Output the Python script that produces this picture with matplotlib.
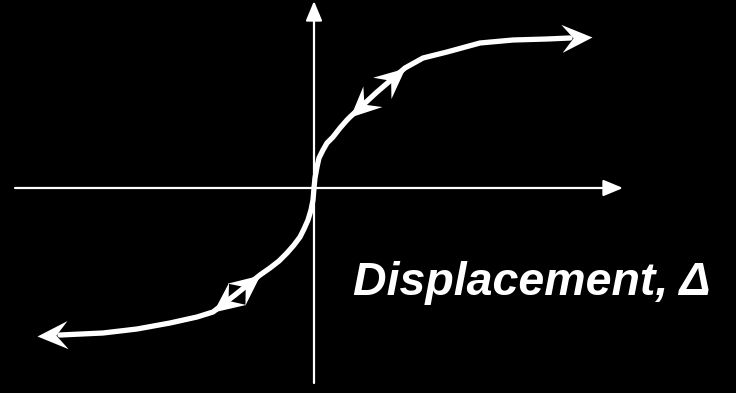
import numpy as np
import matplotlib.pyplot as plt
from matplotlib.path import Path
from matplotlib.markers import MarkerStyle
from matplotlib.transforms import Affine2D

# force-displacement curve (units: px from origin)
disp_up = [0, 1, 3, 5, 9, 13, 19, 26, 33, 36, 63, 91, 109, 133, 166, 199, 233, 256, 278]
force_up = [0, 10, 21, 30, 38, 45, 51, 60, 68, 71, 96, 120, 130, 136, 145, 148, 149, 150, 151]
disp_dn = [0, -1, -3, -6, -10, -14, -20, -27, -35, -44, -54, -79, -101, -117, -144, -177, -211, -254, -277]
force_dn = [0, -12, -22, -32, -41, -49, -57, -65, -73, -80, -87, -107, -124, -129, -135, -141, -145, -147, -148]

# arrowheads on the curve: (index of tip, index of a point behind it)
heads_up = [(11, 10), (9, 10), (18, 17)]
heads_dn = [(10, 11), (12, 11), (18, 17)]

fig = plt.figure(figsize=(7.36, 3.93), dpi=100, facecolor='black')
ax = fig.add_axes([0, 0, 1, 1], facecolor='black')
ax.set_xlim(-314, 422)
ax.set_ylim(-205, 188)
ax.axis('off')

# axes with arrows
ax.annotate('', xy=(309, 0), xytext=(-299, 0),
            arrowprops=dict(arrowstyle='-|>,head_length=1.2,head_width=0.5',
                            color='white', lw=1.6, shrinkA=0, shrinkB=0))
ax.annotate('', xy=(0, 187), xytext=(0, -195),
            arrowprops=dict(arrowstyle='-|>,head_length=1.2,head_width=0.5',
                            color='white', lw=1.6, shrinkA=0, shrinkB=0))

ax.plot(disp_up[:-1], force_up[:-1], color='white', lw=3.8,
        solid_capstyle='round', solid_joinstyle='round')
ax.plot(disp_dn[:-1], force_dn[:-1], color='white', lw=3.8,
        solid_capstyle='round', solid_joinstyle='round')

# barbed arrowhead, tip at origin, pointing to +x
barb = Path([(0, 0), (-1, 0.46), (-0.62, 0), (-1, -0.46), (0, 0)],
            [Path.MOVETO, Path.LINETO, Path.LINETO, Path.LINETO, Path.CLOSEPOLY])

def head(xs, ys, tip, back):
    ang = np.degrees(np.arctan2(ys[tip] - ys[back], xs[tip] - xs[back]))
    m = MarkerStyle(barb, transform=Affine2D().rotate_deg(ang))
    ax.plot([xs[tip]], [ys[tip]], marker=m, ms=44, color='white', mew=0)

for t, b in heads_up:
    head(disp_up, force_up, t, b)
for t, b in heads_dn:
    head(disp_dn, force_dn, t, b)

ax.text(39, -107, 'Displacement, Δ', color='white', fontsize=33.5,
        fontweight='bold', fontstyle='italic', family=['Liberation Sans', 'DejaVu Sans'],
        va='baseline', ha='left')

fig.savefig('out.png', dpi=100, facecolor='black')
